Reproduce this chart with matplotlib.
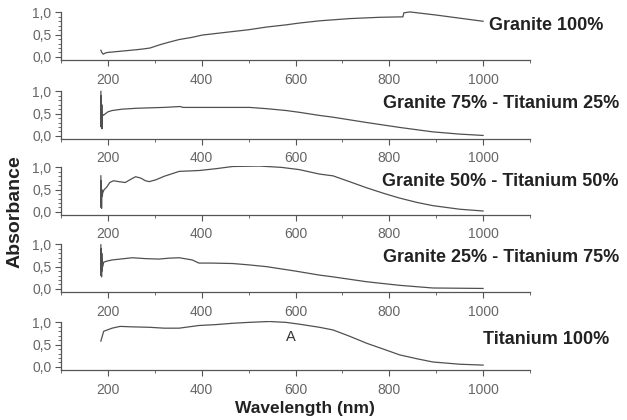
import matplotlib
matplotlib.use("Agg")
import matplotlib.pyplot as plt
from matplotlib.ticker import MultipleLocator, FixedLocator, FixedFormatter

plt.rcParams['font.family'] = ['Liberation Sans', 'DejaVu Sans']

# ---- data ----
wl_g100 = [185, 187, 190, 195, 200, 220, 240, 260, 277, 290, 310, 330, 352, 380, 401,
           450, 500, 538, 580, 608, 651, 715, 780, 829, 831, 844, 900, 950, 1000]
ab_g100 = [0.15, 0.10, 0.06, 0.09, 0.10, 0.12, 0.14, 0.16, 0.18, 0.20, 0.27, 0.33, 0.39, 0.44, 0.49,
           0.55, 0.61, 0.67, 0.72, 0.76, 0.81, 0.86, 0.89, 0.90, 0.99, 1.01, 0.94, 0.87, 0.80]

wl_g75 = [185, 185.5, 186, 186.5, 187, 187.5, 188, 190, 195, 200, 209, 230, 260, 288, 320,
          354, 360, 400, 450, 502, 540, 580, 608, 651, 680, 752, 822, 893, 950, 1000]
ab_g75 = [1.00, 0.20, 0.90, 0.25, 0.70, 0.16, 0.50, 0.46, 0.50, 0.54, 0.57, 0.60, 0.62, 0.63, 0.64,
          0.66, 0.64, 0.64, 0.64, 0.64, 0.61, 0.57, 0.53, 0.46, 0.42, 0.30, 0.19, 0.09, 0.04, 0.01]

wl_g50 = [185, 185.5, 186, 186.5, 187, 188, 189, 192, 197, 204, 212, 223, 237, 250, 259, 270,
          280, 288, 302, 320, 352, 395, 430, 466, 523, 570, 608, 651, 680, 715, 752, 790,
          822, 860, 893, 950, 1000]
ab_g50 = [0.81, 0.10, 0.70, 0.08, 0.50, 0.35, 0.43, 0.50, 0.55, 0.66, 0.70, 0.68, 0.66, 0.74, 0.79, 0.76,
          0.70, 0.68, 0.72, 0.80, 0.91, 0.93, 0.97, 1.02, 1.03, 1.00, 0.95, 0.85, 0.81, 0.68, 0.54, 0.41,
          0.31, 0.21, 0.14, 0.06, 0.02]

wl_g25 = [185, 185.5, 186, 186.5, 187, 187.5, 188, 189, 191, 200, 209, 252, 280, 309, 330, 352,
          380, 394, 420, 466, 500, 538, 600, 651, 680, 752, 822, 893, 1000]
ab_g25 = [0.99, 0.30, 0.90, 0.27, 0.80, 0.40, 0.65, 0.50, 0.60, 0.63, 0.65, 0.70, 0.68, 0.67, 0.69, 0.70,
          0.65, 0.58, 0.58, 0.57, 0.54, 0.50, 0.40, 0.31, 0.27, 0.16, 0.08, 0.02, 0.01]

wl_t100 = [185, 191, 209, 226, 250, 288, 320, 352, 394, 430, 466, 500, 544, 580, 608, 651,
           680, 715, 752, 790, 822, 860, 893, 950, 1000]
ab_t100 = [0.58, 0.80, 0.87, 0.91, 0.90, 0.89, 0.87, 0.87, 0.93, 0.95, 0.98, 1.00, 1.02, 1.00, 0.96, 0.89,
           0.83, 0.69, 0.53, 0.39, 0.27, 0.18, 0.11, 0.06, 0.04]

series_wl = [wl_g100, wl_g75, wl_g50, wl_g25, wl_t100]
series_ab = [ab_g100, ab_g75, ab_g50, ab_g25, ab_t100]
labels = ["Granite 100%", "Granite 75% - Titanium 25%", "Granite 50% - Titanium 50%",
          "Granite 25% - Titanium 75%", "Titanium 100%"]
x_ticks = [200, 400, 600, 800, 1000]
y_ticks = [0.0, 0.5, 1.0]
y_ticklabels = ["0,0", "0,5", "1,0"]

# ---- layout ----
W, H = 627, 420
fig = plt.figure(figsize=(W / 100, H / 100), dpi=100)
bottoms_px = [60, 139, 215, 292, 370]
label_pos = [(489, 26), (383, 104), (382, 182), (383, 258), (483, 340)]
ymin, ymax = -0.07, 1.03
ppu = 44.5
left_px, right_px = 61, 530
gray = '#555555'
tick_gray = '#666666'

for i in range(5):
    hpx = (ymax - ymin) * ppu
    ax = fig.add_axes([left_px / W, 1 - bottoms_px[i] / H, (right_px - left_px) / W, hpx / H])
    ax.plot(series_wl[i], series_ab[i], color='#505050', lw=0.9)
    ax.set_xlim(100, 1100)
    ax.set_ylim(ymin, ymax)
    for s in ['top', 'right']:
        ax.spines[s].set_visible(False)
    for s in ['left', 'bottom']:
        ax.spines[s].set_color(gray)
        ax.spines[s].set_linewidth(0.9)
    ax.spines['left'].set_bounds(ymin, 1.0)
    ax.xaxis.set_major_locator(FixedLocator(x_ticks))
    ax.xaxis.set_minor_locator(MultipleLocator(100))
    ax.yaxis.set_major_locator(FixedLocator(y_ticks))
    ax.yaxis.set_major_formatter(FixedFormatter(y_ticklabels))
    ax.yaxis.set_minor_locator(FixedLocator([k / 10 for k in range(0, 11)]))
    ax.tick_params(axis='x', which='major', pad=5)
    ax.tick_params(axis='y', which='major', pad=3)
    ax.tick_params(axis='both', which='major', direction='out', length=4, width=0.8,
                   color=gray, labelcolor=tick_gray, labelsize=10)
    ax.tick_params(axis='both', which='minor', direction='out', length=2.5, width=0.6, color=gray)
    ax.patch.set_alpha(0)
    fig.text(label_pos[i][0] / W, 1 - label_pos[i][1] / H, labels[i], fontsize=13,
             fontweight='bold', color='#222222', va='center', ha='left')
    if i == 4:
        ax.text(590, 0.68, "A", fontsize=10.5, color='#333333', ha='center', va='center')

fig.text(15 / W, 1 - 212 / H, "Absorbance", rotation=90, fontsize=14, fontweight='bold',
         color='#222222', ha='center', va='center')
fig.text(305 / W, 1 - 408 / H, "Wavelength (nm)", fontsize=12.5, fontweight='bold',
         color='#222222', ha='center', va='center')

fig.savefig("out.png", dpi=100)
